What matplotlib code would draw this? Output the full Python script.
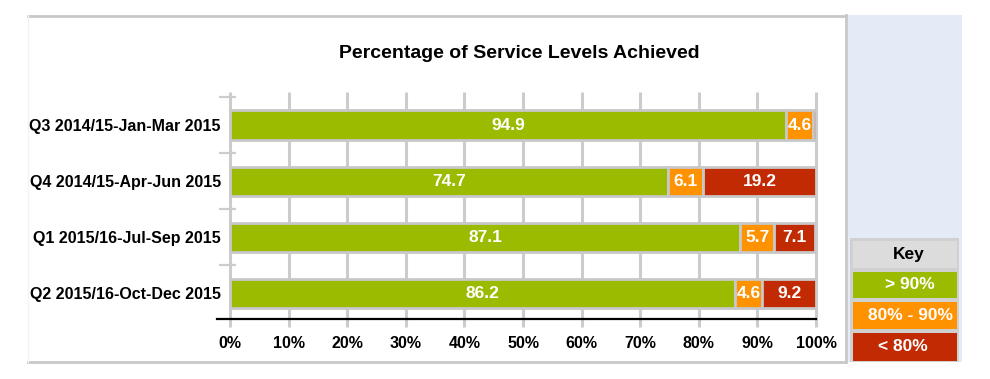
import matplotlib
matplotlib.use("Agg")
import matplotlib.pyplot as plt
from matplotlib.patches import Rectangle
import numpy as np

plt.rcParams.update({
    "font.family": ["Liberation Sans", "DejaVu Sans"],
    "font.weight": "bold",
})

# data
quarters = ["Q3 2014/15-Jan-Mar 2015", "Q4 2014/15-Apr-Jun 2015",
            "Q1 2015/16-Jul-Sep 2015", "Q2 2015/16-Oct-Dec 2015"]
above_90 = [94.9, 74.7, 87.1, 86.2]
between_80_90 = [4.6, 6.1, 5.7, 4.6]
below_80 = [0.5, 19.2, 7.1, 9.2]
x_ticks = list(range(0, 101, 10))
key_labels = ["> 90%", "80% - 90%", "< 80%"]

GREEN = "#9BBB00"
ORANGE = "#FF9200"
RED = "#C22A03"
GRID = "#CCCCCC"
EDGE = "#C8C8C8"

W, H = 990, 379


def fx(x):
    return x / W


def fy(y):
    return 1 - y / H


def fig_rect(fig, x0, y0, x1, y1, **kw):
    """Rectangle in pixel coords (top-left origin)."""
    r = Rectangle((fx(x0), fy(y1)), fx(x1) - fx(x0), fy(y0) - fy(y1),
                  transform=fig.transFigure, **kw)
    fig.add_artist(r)
    return r


fig = plt.figure(figsize=(W / 100, H / 100), dpi=100)

# chart frame + right panel
fig_rect(fig, 28, 15, 846, 362, facecolor="white", edgecolor="none", zorder=0)
fig.add_artist(plt.Line2D([fx(28), fx(846)], [fy(15.5), fy(15.5)], color=EDGE, lw=2,
                          transform=fig.transFigure))
fig.add_artist(plt.Line2D([fx(28), fx(846)], [fy(362), fy(362)], color=EDGE, lw=2,
                          transform=fig.transFigure))
fig.add_artist(plt.Line2D([fx(845.5), fx(845.5)], [fy(15), fy(362)], color=EDGE, lw=2,
                          transform=fig.transFigure))
fig.add_artist(plt.Line2D([fx(28), fx(28)], [fy(15), fy(362)], color="#F4F4F4", lw=1,
                          transform=fig.transFigure))
fig_rect(fig, 847.5, 15, 962, 362, facecolor="#E4EAF6", edgecolor="none", zorder=0)

# key
fig_rect(fig, 850, 237.5, 958.5, 362, facecolor="#D0D0D0", edgecolor="none", zorder=1)
fig_rect(fig, 853, 240.5, 956.5, 268, facecolor="#DCDCDC", edgecolor="none", zorder=2)
fig.text(fx(909), fy(254.5), "Key", ha="center", va="center", fontsize=12.5,
         fontweight="bold", color="black", zorder=3)
key_cells = [(272, 297.5), (301.5, 329), (332.5, 360.5)]
key_x = [910, 911, 903]
for (y0, y1), lab, col, kx in zip(key_cells, key_labels, [GREEN, ORANGE, RED], key_x):
    fig_rect(fig, 853, y0, 956.5, y1, facecolor=col, edgecolor="none", zorder=2)
    fig.text(fx(kx), fy((y0 + y1) / 2), lab, ha="center", va="center", fontsize=12.5,
             fontweight="bold", color="white", zorder=3)

# title
fig.text(fx(519), fy(53), "Percentage of Service Levels Achieved", ha="center",
         va="center", fontsize=14, fontweight="bold")

# bars
ax = fig.add_axes([fx(230), fy(319), fx(816) - fx(230), fy(92) - fy(319)])
ax.set_facecolor("none")
y = np.arange(len(quarters))[::-1]
height = 0.52

green = np.array(above_90)
orange = np.array(between_80_90)
red = np.array(below_80)

ax.barh(y, green, height, color=GREEN, edgecolor=EDGE, linewidth=2, zorder=3)
ax.barh(y, orange, height, left=green, color=ORANGE, edgecolor=EDGE, linewidth=2, zorder=3)
ax.barh(y, red, height, left=green + orange, color=RED, edgecolor=EDGE, linewidth=2, zorder=3)

for yi, g, o, r in zip(y, green, orange, red):
    for left, val in [(0, g), (g, o), (g + o, r)]:
        if val >= 1:
            ax.text(left + val / 2, yi, f"{val:.1f}", ha="center", va="center",
                    color="white", fontsize=12.5, fontweight="bold", zorder=4)

ax.set_xlim(0, 100)
ax.set_ylim(-0.46, 3.59)

# grid lines, left axis ticks, baseline
ax.vlines(x_ticks, -0.6, 3.59, color=GRID, lw=2.2, zorder=1, clip_on=False)
ax.hlines(np.arange(len(quarters)) + 0.5, -1.9, 1.0, color=GRID, lw=1.6, zorder=1,
          clip_on=False)
ax.plot([-2.2, 100], [-0.46, -0.46], color="black", lw=1.6, zorder=5, clip_on=False)

for s in ax.spines.values():
    s.set_visible(False)

ax.set_xticks(x_ticks)
ax.set_xticklabels([f"{t}%" for t in x_ticks], fontsize=11.5, fontweight="bold")
ax.set_yticks(y)
ax.set_yticklabels(quarters, fontsize=11.5, fontweight="bold")
ax.tick_params(axis="both", length=0)
ax.tick_params(axis="x", pad=12)
ax.tick_params(axis="y", pad=6.5)

fig.savefig("out.png", dpi=100)
plt.close(fig)
